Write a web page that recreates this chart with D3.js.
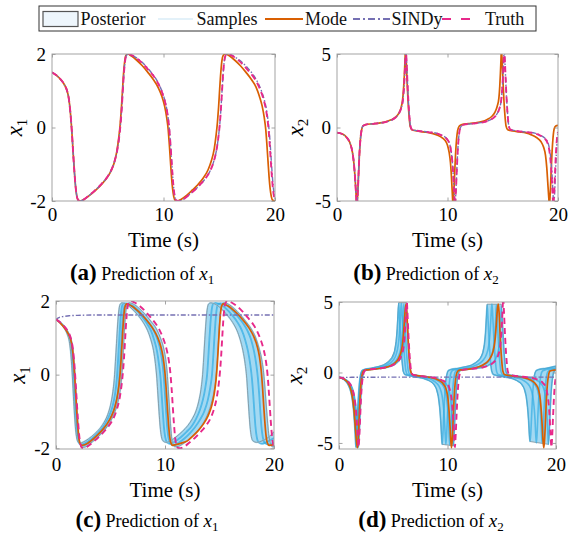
<!DOCTYPE html>
<html><head><meta charset="utf-8">
<script src="https://cdn.jsdelivr.net/npm/d3@7"></script>
<style>body{margin:0;background:#fff}svg{display:block}</style>
</head><body><svg id="c" width="575" height="538"></svg>
<script>
// ---------------- data ----------------
const xTicks = [0, 10, 20];
const x1Ticks = [-2, 0, 2];
const x2Ticks = [-5, 0, 5];
const legendLabels = ["Posterior", "Samples", "Mode", "SINDy", "Truth"];

const truthX1 = [[0,1.5],[0.4,1.42],[0.8,1.3],[1.1,1.17],[1.35,1.0],[1.5,0.8],[1.62,0.5],[1.72,0.15],[1.82,-0.3],[1.92,-0.8],[2.02,-1.25],[2.12,-1.62],[2.22,-1.86],[2.36,-1.98],[2.55,-2.0],
[2.9,-1.95],[3.4,-1.83],[3.9,-1.7],[4.4,-1.55],[4.9,-1.37],[5.3,-1.17],[5.6,-0.93],[5.85,-0.62],[6.03,-0.25],[6.15,0.1],[6.25,0.5],[6.35,1.0],[6.45,1.48],[6.55,1.8],[6.67,1.96],[6.85,2.0],
[7.2,1.96],[7.7,1.86],[8.2,1.72],[8.7,1.55],[9.2,1.36],[9.6,1.15],[9.9,0.93],[10.15,0.68],[10.35,0.38],[10.5,0.02],[10.6,-0.35],[10.7,-0.8],[10.8,-1.25],[10.9,-1.62],[11.0,-1.86],[11.14,-1.98],[11.35,-2.0],
[11.8,-1.95],[12.3,-1.83],[12.8,-1.7],[13.3,-1.55],[13.8,-1.37],[14.2,-1.17],[14.5,-0.93],[14.75,-0.62],[14.93,-0.25],[15.05,0.1],[15.15,0.5],[15.25,1.0],[15.35,1.48],[15.45,1.8],[15.57,1.96],[15.75,2.0],
[16.1,1.96],[16.6,1.86],[17.1,1.72],[17.6,1.55],[18.1,1.36],[18.5,1.15],[18.8,0.93],[19.05,0.68],[19.25,0.38],[19.4,0.02],[19.5,-0.35],[19.6,-0.8],[19.7,-1.25],[19.8,-1.62],[19.9,-1.86],[20,-1.97]];

const truthX2 = [[0,-0.35],[0.5,-0.45],[0.9,-0.7],[1.2,-1.1],[1.4,-1.7],[1.55,-2.6],[1.65,-3.6],[1.73,-4.6],[1.8,-5.3],[1.87,-4.6],[1.95,-3.2],[2.03,-1.8],[2.12,-0.8],[2.22,-0.2],[2.35,0.1],[2.6,0.2],
[3.2,0.25],[3.8,0.3],[4.4,0.37],[4.9,0.5],[5.3,0.68],[5.6,0.95],[5.8,1.3],[5.95,1.8],[6.05,2.6],[6.12,3.5],[6.18,4.5],[6.23,5.3],[6.3,4.4],[6.38,3.0],[6.46,1.8],[6.55,0.8],[6.65,0.1],[6.8,-0.15],
[7.2,-0.22],[7.8,-0.28],[8.4,-0.33],[9.0,-0.4],[9.5,-0.55],[9.9,-0.75],[10.15,-1.05],[10.3,-1.5],[10.42,-2.2],[10.52,-3.2],[10.6,-4.4],[10.68,-5.3],[10.75,-4.5],[10.83,-3.1],[10.91,-1.8],[11.0,-0.8],[11.1,-0.2],[11.25,0.1],[11.5,0.2],
[12.1,0.25],[12.7,0.3],[13.3,0.37],[13.8,0.5],[14.2,0.68],[14.5,0.95],[14.7,1.3],[14.85,1.8],[14.95,2.6],[15.02,3.5],[15.08,4.5],[15.13,5.3],[15.2,4.4],[15.28,3.0],[15.36,1.8],[15.45,0.8],[15.55,0.1],[15.7,-0.15],
[16.1,-0.22],[16.7,-0.28],[17.3,-0.33],[17.9,-0.4],[18.4,-0.55],[18.8,-0.75],[19.05,-1.05],[19.2,-1.5],[19.32,-2.2],[19.42,-3.2],[19.5,-4.4],[19.58,-5.3],[19.65,-4.5],[19.73,-3.1],[19.81,-1.8],[19.9,-0.8],[20,-0.3]];

const modeX1a = [[0,1.5],[0.4,1.42],[0.8,1.3],[1.1,1.17],[1.35,1.0],[1.5,0.8],[1.62,0.5],[1.72,0.15],[1.82,-0.3],[1.92,-0.8],[2.02,-1.25],[2.12,-1.62],[2.22,-1.86],[2.36,-1.98],[2.55,-2.0],
[2.9,-1.95],[3.4,-1.84],[3.9,-1.71],[4.4,-1.56],[4.9,-1.38],[5.3,-1.18],[5.6,-0.94],[5.83,-0.62],[6.0,-0.25],[6.12,0.1],[6.22,0.5],[6.32,1.0],[6.42,1.48],[6.52,1.8],[6.63,1.96],[6.8,2.0],
[7.1,1.95],[7.6,1.83],[8.1,1.68],[8.6,1.5],[9.1,1.3],[9.5,1.1],[9.85,0.85],[10.1,0.58],[10.28,0.28],[10.42,-0.05],[10.52,-0.45],[10.62,-0.9],[10.72,-1.35],[10.82,-1.68],[10.92,-1.88],[11.05,-1.98],[11.25,-2.0],
[11.6,-1.95],[12.1,-1.84],[12.6,-1.7],[13.1,-1.55],[13.6,-1.36],[14.0,-1.15],[14.3,-0.9],[14.55,-0.58],[14.72,-0.2],[14.84,0.15],[14.94,0.55],[15.04,1.05],[15.14,1.5],[15.24,1.82],[15.35,1.96],[15.55,2.0],
[15.9,1.95],[16.4,1.83],[16.9,1.68],[17.4,1.5],[17.9,1.3],[18.3,1.1],[18.6,0.85],[18.85,0.58],[19.03,0.28],[19.17,-0.05],[19.27,-0.45],[19.37,-0.9],[19.47,-1.35],[19.57,-1.68],[19.67,-1.88],[19.8,-1.98],[20,-2.0]];

const sindyX1a = [[0,1.5],[0.4,1.42],[0.8,1.3],[1.1,1.17],[1.35,1.0],[1.5,0.8],[1.62,0.5],[1.72,0.15],[1.82,-0.3],[1.92,-0.8],[2.02,-1.25],[2.12,-1.62],[2.22,-1.86],[2.36,-1.98],[2.55,-2.0],
[2.9,-1.95],[3.4,-1.83],[3.9,-1.7],[4.4,-1.55],[4.9,-1.37],[5.3,-1.17],[5.6,-0.93],[5.85,-0.62],[6.03,-0.25],[6.15,0.1],[6.25,0.5],[6.35,1.0],[6.45,1.48],[6.55,1.8],[6.67,1.96],[6.85,2.0],
[7.2,1.96],[7.7,1.87],[8.2,1.74],[8.7,1.57],[9.2,1.38],[9.6,1.17],[9.9,0.95],[10.15,0.7],[10.35,0.4],[10.5,0.04],[10.6,-0.33],[10.7,-0.78],[10.8,-1.23],[10.9,-1.6],[11.0,-1.85],[11.14,-1.97],[11.35,-2.0],
[11.8,-1.95],[12.3,-1.83],[12.8,-1.7],[13.3,-1.55],[13.8,-1.37],[14.2,-1.17],[14.5,-0.93],[14.75,-0.62],[14.93,-0.25],[15.05,0.1],[15.15,0.5],[15.25,1.0],[15.35,1.48],[15.45,1.8],[15.57,1.96],[15.75,2.0],
[16.1,1.97],[16.6,1.88],[17.1,1.76],[17.6,1.6],[18.1,1.41],[18.5,1.2],[18.8,0.98],[19.05,0.74],[19.27,0.42],[19.43,0.05],[19.54,-0.32],[19.64,-0.78],[19.74,-1.23],[19.84,-1.6],[19.94,-1.85],[20,-1.93]];

const modeX2b = [[0,-0.35],[0.5,-0.45],[0.9,-0.7],[1.2,-1.1],[1.4,-1.7],[1.55,-2.6],[1.65,-3.6],[1.73,-4.6],[1.8,-5.3],[1.87,-4.6],[1.95,-3.2],[2.03,-1.8],[2.12,-0.8],[2.22,-0.2],[2.35,0.1],[2.6,0.2],
[3.2,0.25],[3.8,0.3],[4.4,0.38],[4.9,0.52],[5.3,0.7],[5.6,0.98],[5.8,1.35],[5.93,1.85],[6.02,2.6],[6.09,3.5],[6.15,4.5],[6.2,5.3],[6.27,4.4],[6.35,3.0],[6.43,1.8],[6.52,0.8],[6.62,0.1],[6.77,-0.15],
[7.2,-0.23],[7.8,-0.3],[8.4,-0.37],[8.9,-0.47],[9.35,-0.62],[9.75,-0.85],[10.0,-1.2],[10.15,-1.7],[10.27,-2.4],[10.36,-3.4],[10.43,-4.4],[10.5,-5.3],[10.57,-4.5],[10.65,-3.1],[10.73,-1.8],[10.82,-0.8],[10.92,-0.2],[11.07,0.1],[11.3,0.2],
[11.9,0.26],[12.5,0.32],[13.1,0.4],[13.6,0.55],[14.0,0.75],[14.3,1.05],[14.5,1.45],[14.65,2.0],[14.73,2.8],[14.79,3.7],[14.84,4.6],[14.88,5.3],[14.95,4.4],[15.03,3.0],[15.11,1.8],[15.2,0.8],[15.3,0.1],[15.45,-0.15],
[15.9,-0.23],[16.5,-0.3],[17.1,-0.37],[17.6,-0.5],[18.05,-0.68],[18.45,-0.95],[18.7,-1.35],[18.87,-1.9],[18.98,-2.7],[19.07,-3.7],[19.15,-4.6],[19.23,-5.3],[19.3,-4.4],[19.38,-3.0],[19.46,-1.7],[19.55,-0.7],[19.65,-0.1],[19.8,0.1],[20,0.15]];

const sindyX2b = [[0,-0.35],[0.5,-0.45],[0.9,-0.7],[1.2,-1.1],[1.4,-1.7],[1.55,-2.6],[1.65,-3.6],[1.73,-4.6],[1.8,-5.3],[1.87,-4.6],[1.95,-3.2],[2.03,-1.8],[2.12,-0.8],[2.22,-0.2],[2.35,0.1],[2.6,0.2],
[3.2,0.25],[3.8,0.3],[4.4,0.37],[4.9,0.5],[5.3,0.68],[5.6,0.95],[5.8,1.3],[5.95,1.8],[6.05,2.6],[6.12,3.5],[6.18,4.5],[6.23,5.3],[6.3,4.4],[6.38,3.0],[6.46,1.8],[6.55,0.8],[6.65,0.1],[6.8,-0.15],
[7.2,-0.21],[7.8,-0.27],[8.4,-0.32],[9.0,-0.39],[9.5,-0.53],[9.9,-0.73],[10.15,-1.02],[10.3,-1.48],[10.42,-2.2],[10.52,-3.2],[10.6,-4.4],[10.68,-5.3],[10.75,-4.5],[10.83,-3.1],[10.91,-1.8],[11.0,-0.8],[11.1,-0.2],[11.25,0.1],[11.5,0.2],
[12.1,0.25],[12.7,0.3],[13.3,0.37],[13.8,0.5],[14.2,0.68],[14.5,0.95],[14.7,1.3],[14.85,1.8],[14.95,2.6],[15.02,3.5],[15.08,4.5],[15.13,5.3],[15.2,4.4],[15.28,3.0],[15.36,1.8],[15.45,0.8],[15.55,0.1],[15.7,-0.15],
[16.1,-0.21],[16.7,-0.27],[17.3,-0.32],[17.9,-0.38],[18.4,-0.52],[18.8,-0.72],[19.08,-1.02],[19.24,-1.5],[19.36,-2.2],[19.46,-3.2],[19.54,-4.4],[19.62,-5.3],[19.69,-4.5],[19.77,-3.1],[19.85,-1.8],[19.94,-0.8],[20,-0.45]];

const modeX1c = [[0,1.5],[0.4,1.4],[0.8,1.26],[1.1,1.12],[1.35,0.95],[1.5,0.72],[1.6,0.42],[1.7,0.02],[1.8,-0.48],[1.9,-0.98],[2.0,-1.42],[2.1,-1.73],[2.22,-1.88],[2.4,-1.92],[2.7,-1.9],
[3.2,-1.8],[3.7,-1.67],[4.2,-1.52],[4.7,-1.33],[5.1,-1.12],[5.4,-0.88],[5.65,-0.55],[5.83,-0.15],[5.95,0.3],[6.05,0.8],[6.15,1.3],[6.25,1.68],[6.36,1.87],[6.5,1.92],
[6.9,1.87],[7.4,1.76],[7.9,1.62],[8.4,1.45],[8.9,1.25],[9.3,1.03],[9.6,0.78],[9.82,0.48],[9.98,0.1],[10.1,-0.35],[10.2,-0.82],[10.3,-1.25],[10.4,-1.6],[10.52,-1.83],[10.7,-1.92],[11.0,-1.9],
[11.5,-1.86],[12.05,-1.8],[12.55,-1.67],[13.05,-1.52],[13.55,-1.33],[13.95,-1.12],[14.25,-0.88],[14.5,-0.55],[14.68,-0.15],[14.8,0.3],[14.9,0.8],[15.0,1.3],[15.1,1.68],[15.21,1.87],[15.35,1.92],
[15.75,1.87],[16.25,1.76],[16.75,1.62],[17.25,1.45],[17.75,1.25],[18.15,1.03],[18.45,0.78],[18.67,0.48],[18.83,0.1],[18.95,-0.35],[19.05,-0.82],[19.15,-1.25],[19.25,-1.6],[19.37,-1.83],[19.55,-1.92],[20,-1.9]];

const modeX2d = [[0,-0.35],[0.4,-0.45],[0.8,-0.7],[1.05,-1.1],[1.25,-1.8],[1.4,-2.8],[1.5,-3.8],[1.6,-4.8],[1.7,-5.35],[1.78,-4.6],[1.86,-3.2],[1.94,-1.8],[2.02,-0.8],[2.12,-0.2],[2.25,0.1],[2.5,0.18],
[3.1,0.22],[3.7,0.28],[4.3,0.36],[4.8,0.5],[5.2,0.7],[5.5,1.0],[5.7,1.4],[5.85,2.0],[5.95,2.8],[6.03,3.7],[6.1,4.4],[6.18,4.85],[6.25,4.3],[6.33,3.0],[6.41,1.8],[6.5,0.8],[6.6,0.1],[6.75,-0.15],
[7.2,-0.22],[7.8,-0.28],[8.4,-0.35],[8.9,-0.45],[9.3,-0.6],[9.65,-0.85],[9.9,-1.25],[10.05,-1.9],[10.15,-2.8],[10.23,-3.8],[10.3,-4.8],[10.37,-5.35],[10.45,-4.6],[10.53,-3.2],[10.61,-1.8],[10.7,-0.8],[10.8,-0.2],[10.95,0.1],[11.2,0.18],
[11.8,0.22],[12.4,0.3],[12.9,0.4],[13.3,0.55],[13.7,0.78],[14.0,1.1],[14.2,1.5],[14.35,2.1],[14.45,2.9],[14.53,3.8],[14.6,4.5],[14.68,4.85],[14.75,4.3],[14.83,3.0],[14.91,1.8],[15.0,0.8],[15.1,0.1],[15.25,-0.15],
[15.7,-0.22],[16.3,-0.28],[16.9,-0.35],[17.4,-0.45],[17.8,-0.6],[18.15,-0.85],[18.4,-1.25],[18.55,-1.9],[18.65,-2.8],[18.73,-3.8],[18.8,-4.8],[18.88,-5.35],[18.96,-4.6],[19.04,-3.2],[19.12,-1.8],[19.21,-0.8],[19.31,-0.2],[19.45,0.1],[19.7,0.15],[20,0.18]];

const sindyX1c = [[0,1.48],[0.15,1.53],[0.35,1.56],[0.7,1.58],[1.2,1.6],[2,1.61],[4,1.62],[10,1.62],[20,1.62]];
const sindyX2d = [[0,-0.35],[2,-0.34],[6,-0.33],[12,-0.33],[20,-0.33]];

// posterior samples for x1 (earliest, two middle, latest)
const sampleX1E = [[0,1.5],[0.4,1.4],[0.8,1.24],[1.05,1.08],[1.22,0.9],[1.34,0.62],[1.44,0.25],[1.52,-0.15],[1.6,-0.6],[1.7,-1.1],[1.8,-1.5],[1.9,-1.72],[2.02,-1.83],[2.2,-1.86],[2.5,-1.83],
[3.0,-1.74],[3.5,-1.62],[4.0,-1.47],[4.4,-1.3],[4.75,-1.08],[5.0,-0.83],[5.2,-0.5],[5.35,-0.1],[5.45,0.35],[5.55,0.85],[5.65,1.35],[5.75,1.7],[5.87,1.9],[6.05,1.95],
[6.5,1.9],[7.0,1.78],[7.5,1.62],[8.0,1.42],[8.4,1.2],[8.7,0.95],[8.95,0.65],[9.12,0.3],[9.25,-0.1],[9.35,-0.55],[9.45,-1.0],[9.55,-1.4],[9.67,-1.68],[9.82,-1.8],[10.1,-1.84],
[10.6,-1.78],[11.1,-1.67],[11.6,-1.54],[12.1,-1.38],[12.5,-1.2],[12.85,-0.98],[13.1,-0.72],[13.3,-0.4],[13.45,0.0],[13.55,0.45],[13.65,0.95],[13.75,1.4],[13.86,1.75],[14.0,1.92],[14.2,1.95],
[14.7,1.9],[15.2,1.78],[15.7,1.62],[16.2,1.42],[16.6,1.2],[16.9,0.95],[17.15,0.65],[17.35,0.3],[17.5,-0.1],[17.6,-0.55],[17.7,-1.0],[17.8,-1.4],[17.92,-1.68],[18.07,-1.8],[18.4,-1.84],[18.9,-1.8],[19.4,-1.72],[19.8,-1.62],[20,-1.55]];
const sampleX1S2 = [[0,1.5],[0.4,1.41],[0.8,1.27],[1.1,1.12],[1.3,0.93],[1.43,0.65],[1.52,0.3],[1.6,-0.12],[1.69,-0.6],[1.79,-1.1],[1.89,-1.5],[1.99,-1.75],[2.12,-1.87],[2.3,-1.9],[2.6,-1.87],
[3.1,-1.78],[3.6,-1.66],[4.1,-1.5],[4.5,-1.33],[4.9,-1.1],[5.2,-0.85],[5.42,-0.52],[5.58,-0.12],[5.68,0.32],[5.78,0.82],[5.88,1.32],[5.98,1.7],[6.1,1.9],[6.3,1.94],
[6.8,1.89],[7.3,1.77],[7.8,1.61],[8.3,1.41],[8.7,1.2],[9.0,0.95],[9.27,0.63],[9.45,0.28],[9.6,-0.12],[9.7,-0.57],[9.8,-1.02],[9.9,-1.42],[10.02,-1.7],[10.18,-1.84],[10.45,-1.88],
[10.95,-1.81],[11.45,-1.7],[11.95,-1.56],[12.45,-1.4],[12.85,-1.2],[13.2,-0.96],[13.48,-0.68],[13.7,-0.35],[13.87,0.02],[13.97,0.45],[14.07,0.95],[14.17,1.4],[14.28,1.75],[14.42,1.92],[14.65,1.95],
[15.15,1.9],[15.65,1.78],[16.15,1.62],[16.65,1.42],[17.05,1.2],[17.35,0.95],[17.62,0.63],[17.82,0.28],[17.98,-0.12],[18.1,-0.57],[18.2,-1.02],[18.3,-1.42],[18.42,-1.7],[18.58,-1.84],[18.9,-1.88],[19.4,-1.82],[20,-1.72]];
const sampleX1S3 = [[0,1.5],[0.4,1.41],[0.8,1.28],[1.1,1.14],[1.33,0.97],[1.48,0.72],[1.58,0.38],[1.68,-0.05],[1.77,-0.55],[1.87,-1.05],[1.97,-1.47],[2.07,-1.74],[2.2,-1.88],[2.38,-1.93],[2.7,-1.9],
[3.2,-1.81],[3.7,-1.69],[4.2,-1.54],[4.65,-1.37],[5.05,-1.15],[5.38,-0.9],[5.62,-0.58],[5.78,-0.18],[5.88,0.28],[5.98,0.8],[6.08,1.3],[6.18,1.68],[6.3,1.88],[6.5,1.93],
[7.0,1.88],[7.5,1.76],[8.0,1.6],[8.5,1.41],[8.95,1.2],[9.3,0.96],[9.58,0.66],[9.77,0.3],[9.9,-0.1],[10.0,-0.55],[10.1,-1.0],[10.2,-1.42],[10.32,-1.72],[10.48,-1.87],[10.75,-1.92],
[11.25,-1.85],[11.75,-1.74],[12.25,-1.6],[12.75,-1.43],[13.2,-1.23],[13.6,-1.0],[13.92,-0.7],[14.15,-0.35],[14.32,0.02],[14.42,0.45],[14.52,0.95],[14.62,1.4],[14.73,1.75],[14.87,1.92],[15.1,1.94],
[15.6,1.89],[16.1,1.77],[16.6,1.61],[17.1,1.42],[17.55,1.2],[17.9,0.95],[18.17,0.63],[18.37,0.28],[18.53,-0.12],[18.65,-0.57],[18.75,-1.02],[18.85,-1.42],[18.97,-1.7],[19.13,-1.85],[19.45,-1.9],[20,-1.85]];
const sampleX1L = [[0,1.5],[0.4,1.42],[0.8,1.3],[1.1,1.16],[1.35,1.0],[1.5,0.8],[1.62,0.5],[1.72,0.12],[1.8,-0.3],[1.9,-0.82],[2.0,-1.28],[2.1,-1.65],[2.22,-1.88],[2.38,-1.97],[2.6,-1.97],
[3.1,-1.88],[3.6,-1.76],[4.1,-1.62],[4.6,-1.45],[5.0,-1.27],[5.35,-1.05],[5.65,-0.78],[5.88,-0.45],[6.03,-0.05],[6.13,0.4],[6.22,0.9],[6.32,1.4],[6.42,1.75],[6.55,1.92],[6.75,1.95],
[7.2,1.9],[7.7,1.78],[8.2,1.63],[8.7,1.45],[9.2,1.25],[9.55,1.02],[9.85,0.75],[10.05,0.45],[10.2,0.05],[10.3,-0.4],[10.4,-0.88],[10.5,-1.32],[10.6,-1.68],[10.72,-1.88],[10.9,-1.96],[11.2,-1.95],
[11.7,-1.87],[12.2,-1.76],[12.7,-1.62],[13.2,-1.45],[13.6,-1.27],[13.95,-1.05],[14.25,-0.78],[14.5,-0.45],[14.68,-0.05],[14.8,0.4],[14.9,0.9],[15.0,1.4],[15.1,1.75],[15.22,1.92],[15.4,1.95],
[15.9,1.9],[16.4,1.78],[16.9,1.63],[17.4,1.45],[17.9,1.25],[18.3,1.02],[18.6,0.75],[18.85,0.45],[19.05,0.05],[19.18,-0.4],[19.3,-0.88],[19.42,-1.32],[19.54,-1.68],[19.68,-1.88],[19.85,-1.96],[20,-1.96]];

// posterior samples for x2
const sampleX2E = [[0,-0.35],[0.4,-0.48],[0.75,-0.75],[1.0,-1.15],[1.2,-1.8],[1.33,-2.6],[1.42,-3.5],[1.49,-4.4],[1.55,-5.3],[1.62,-4.5],[1.7,-3.1],[1.78,-1.8],[1.87,-0.8],[1.97,-0.2],[2.1,0.12],[2.4,0.22],
[3.0,0.3],[3.6,0.4],[4.1,0.52],[4.5,0.7],[4.85,0.98],[5.1,1.4],[5.25,2.0],[5.35,2.8],[5.43,3.9],[5.5,4.9],[5.57,4.0],[5.65,2.8],[5.73,1.7],[5.82,0.75],[5.92,0.1],[6.07,-0.15],
[6.6,-0.25],[7.2,-0.33],[7.8,-0.43],[8.3,-0.58],[8.7,-0.8],[8.97,-1.15],[9.15,-1.7],[9.28,-2.5],[9.37,-3.4],[9.44,-4.4],[9.5,-5.1],[9.57,-4.5],[9.65,-3.1],[9.73,-1.8],[9.82,-0.8],[9.92,-0.2],[10.05,0.12],[10.35,0.22],
[11.0,0.3],[11.6,0.4],[12.2,0.52],[12.6,0.7],[13.0,0.98],[13.25,1.4],[13.4,2.0],[13.5,2.8],[13.58,3.9],[13.65,4.8],[13.72,4.0],[13.8,2.8],[13.88,1.7],[13.97,0.75],[14.07,0.1],[14.22,-0.15],
[14.75,-0.25],[15.35,-0.33],[15.95,-0.43],[16.4,-0.58],[16.8,-0.8],[17.07,-1.15],[17.25,-1.7],[17.38,-2.5],[17.47,-3.4],[17.54,-4.4],[17.6,-4.9],[17.67,-4.4],[17.75,-3.1],[17.83,-1.8],[17.92,-0.8],[18.02,-0.2],[18.15,0.12],[18.45,0.22],[19.1,0.3],[19.6,0.38],[20,0.45]];
const sampleX2S2 = [[0,-0.35],[0.45,-0.47],[0.8,-0.72],[1.05,-1.1],[1.26,-1.75],[1.4,-2.55],[1.49,-3.45],[1.56,-4.4],[1.62,-5.25],[1.69,-4.55],[1.77,-3.15],[1.85,-1.8],[1.94,-0.8],[2.04,-0.2],[2.17,0.11],[2.45,0.2],
[3.05,0.27],[3.65,0.35],[4.2,0.46],[4.65,0.62],[5.0,0.88],[5.28,1.3],[5.45,1.9],[5.56,2.7],[5.64,3.7],[5.7,4.5],[5.75,4.9],[5.82,4.0],[5.9,2.8],[5.98,1.7],[6.07,0.75],[6.17,0.1],[6.32,-0.15],
[6.9,-0.24],[7.5,-0.31],[8.1,-0.4],[8.6,-0.54],[9.0,-0.76],[9.3,-1.1],[9.5,-1.65],[9.63,-2.45],[9.72,-3.4],[9.79,-4.4],[9.85,-5.1],[9.92,-4.4],[10.0,-3.0],[10.08,-1.7],[10.17,-0.75],[10.27,-0.18],[10.4,0.1],[10.7,0.2],
[11.3,0.27],[11.9,0.35],[12.45,0.46],[12.9,0.62],[13.3,0.88],[13.6,1.3],[13.8,1.9],[13.91,2.7],[13.99,3.7],[14.05,4.5],[14.1,4.85],[14.17,4.0],[14.25,2.8],[14.33,1.7],[14.42,0.75],[14.52,0.1],[14.67,-0.15],
[15.25,-0.24],[15.85,-0.31],[16.45,-0.4],[16.95,-0.54],[17.35,-0.76],[17.65,-1.1],[17.85,-1.65],[17.98,-2.45],[18.07,-3.4],[18.13,-4.4],[18.19,-5.0],[18.26,-4.3],[18.34,-2.9],[18.42,-1.65],[18.51,-0.75],[18.61,-0.18],[18.75,0.1],[19.05,0.2],[19.6,0.27],[20,0.32]];
const sampleX2S3 = [[0,-0.35],[0.45,-0.46],[0.85,-0.7],[1.12,-1.08],[1.33,-1.72],[1.47,-2.52],[1.57,-3.42],[1.64,-4.4],[1.7,-5.3],[1.77,-4.6],[1.85,-3.2],[1.93,-1.8],[2.02,-0.8],[2.12,-0.2],[2.25,0.1],[2.52,0.19],
[3.1,0.25],[3.7,0.32],[4.3,0.41],[4.8,0.56],[5.2,0.8],[5.5,1.18],[5.7,1.75],[5.82,2.55],[5.9,3.6],[5.97,4.85],[6.04,4.0],[6.12,2.8],[6.2,1.7],[6.29,0.75],[6.39,0.1],[6.54,-0.15],
[7.1,-0.23],[7.7,-0.3],[8.3,-0.38],[8.85,-0.5],[9.3,-0.7],[9.65,-1.02],[9.87,-1.6],[10.0,-2.45],[10.09,-3.4],[10.15,-4.4],[10.21,-5.15],[10.28,-4.45],[10.36,-3.05],[10.44,-1.72],[10.53,-0.77],[10.63,-0.18],[10.77,0.1],[11.07,0.19],
[11.7,0.25],[12.3,0.32],[12.9,0.41],[13.4,0.56],[13.8,0.8],[14.05,1.18],[14.23,1.75],[14.35,2.55],[14.43,3.6],[14.5,4.8],[14.57,4.0],[14.65,2.8],[14.73,1.7],[14.82,0.75],[14.92,0.1],[15.07,-0.15],
[15.65,-0.23],[16.25,-0.3],[16.85,-0.38],[17.4,-0.5],[17.85,-0.7],[18.18,-1.02],[18.4,-1.6],[18.53,-2.45],[18.61,-3.4],[18.67,-4.4],[18.73,-5.0],[18.8,-4.3],[18.88,-2.95],[18.96,-1.68],[19.05,-0.76],[19.15,-0.18],[19.29,0.1],[19.6,0.19],[20,0.24]];
const sampleX2L = [[0,-0.35],[0.5,-0.45],[0.9,-0.68],[1.2,-1.05],[1.42,-1.7],[1.56,-2.5],[1.65,-3.4],[1.72,-4.4],[1.78,-5.3],[1.85,-4.6],[1.93,-3.2],[2.01,-1.8],[2.1,-0.8],[2.2,-0.2],[2.33,0.1],[2.6,0.18],
[3.2,0.23],[3.8,0.29],[4.4,0.36],[4.9,0.48],[5.3,0.66],[5.6,0.92],[5.8,1.3],[5.95,1.85],[6.05,2.6],[6.12,3.6],[6.18,4.8],[6.25,4.1],[6.33,2.9],[6.41,1.75],[6.5,0.8],[6.6,0.1],[6.75,-0.15],
[7.3,-0.22],[7.9,-0.28],[8.5,-0.34],[9.0,-0.42],[9.45,-0.56],[9.85,-0.8],[10.1,-1.15],[10.25,-1.7],[10.35,-2.5],[10.43,-3.5],[10.48,-4.4],[10.54,-5.2],[10.61,-4.5],[10.69,-3.1],[10.77,-1.8],[10.86,-0.8],[10.96,-0.2],[11.1,0.1],[11.4,0.18],
[12.0,0.23],[12.6,0.29],[13.2,0.36],[13.7,0.48],[14.1,0.66],[14.4,0.92],[14.6,1.3],[14.75,1.85],[14.84,2.6],[14.9,3.6],[14.96,4.7],[15.03,4.0],[15.11,2.9],[15.19,1.75],[15.28,0.8],[15.38,0.1],[15.53,-0.15],
[16.1,-0.22],[16.7,-0.28],[17.3,-0.34],[17.8,-0.42],[18.25,-0.56],[18.62,-0.8],[18.87,-1.15],[19.02,-1.7],[19.12,-2.5],[19.2,-3.5],[19.25,-4.4],[19.3,-5.1],[19.37,-4.4],[19.45,-3.0],[19.53,-1.7],[19.62,-0.8],[19.72,-0.2],[19.85,0.1],[20,0.16]];

// posterior envelope of x2 (upper / lower edge)
const postX2Upper = [[0,-0.35],[0.5,-0.45],[0.9,-0.68],[1.2,-1.05],[1.4,-1.6],[1.52,-2.3],[1.6,-2.9],[1.66,-3.2],[1.72,-2.6],[1.8,-1.6],[1.9,-0.6],[2.0,-0.1],[2.12,0.14],[2.4,0.24],[3.0,0.32],[3.6,0.42],[4.1,0.55],[4.5,0.75],[4.85,1.05],[5.1,1.5],[5.25,2.2],[5.35,3.1],[5.44,4.4],[5.5,4.95],[6.2,4.95],[6.26,4.2],[6.34,2.9],[6.42,1.75],[6.5,0.8],[6.6,0.1],[6.75,-0.15],[7.3,-0.22],[7.9,-0.28],[8.5,-0.34],[9.0,-0.42],[9.45,-0.56],[9.6,-0.68],[9.72,-0.8],[9.82,-0.6],[9.92,-0.2],[10.05,0.12],[10.35,0.22],[11.0,0.3],[11.6,0.4],[12.2,0.52],[12.6,0.7],[13.0,0.98],[13.25,1.4],[13.4,2.0],[13.5,2.8],[13.58,3.9],[13.65,4.85],[14.95,4.85],[15.03,4.0],[15.11,2.9],[15.19,1.75],[15.28,0.8],[15.38,0.1],[15.53,-0.15],[16.1,-0.22],[16.7,-0.28],[17.3,-0.34],[17.6,-0.4],[17.78,-0.52],[17.88,-0.5],[17.96,-0.3],[18.05,-0.05],[18.15,0.12],[18.45,0.22],[19.1,0.3],[19.6,0.38],[20,0.45]];
const postX2Lower = [[0,-0.35],[0.4,-0.48],[0.75,-0.75],[1.0,-1.15],[1.2,-1.8],[1.33,-2.6],[1.42,-3.5],[1.49,-4.4],[1.55,-5.3],[1.8,-5.3],[1.86,-4.6],[1.94,-3.2],[2.02,-1.8],[2.11,-0.8],[2.21,-0.2],[2.34,0.1],[2.6,0.18],[3.2,0.23],[3.8,0.29],[4.4,0.36],[4.9,0.48],[5.3,0.66],[5.6,0.9],[5.72,1.15],[5.8,0.85],[5.9,0.1],[6.05,-0.15],[6.6,-0.25],[7.2,-0.33],[7.8,-0.43],[8.3,-0.58],[8.7,-0.8],[8.97,-1.15],[9.15,-1.7],[9.28,-2.5],[9.37,-3.4],[9.44,-4.4],[9.5,-5.1],[10.54,-5.2],[10.61,-4.5],[10.69,-3.1],[10.77,-1.8],[10.86,-0.8],[10.96,-0.2],[11.1,0.1],[11.4,0.18],[12.0,0.23],[12.6,0.29],[13.2,0.36],[13.7,0.48],[13.92,0.6],[14.0,0.45],[14.07,0.1],[14.22,-0.15],[14.75,-0.25],[15.35,-0.33],[15.95,-0.43],[16.4,-0.58],[16.8,-0.8],[17.07,-1.15],[17.25,-1.7],[17.38,-2.5],[17.47,-3.4],[17.54,-4.4],[17.6,-4.9],[19.3,-5.1],[19.37,-4.4],[19.45,-3.0],[19.53,-1.7],[19.62,-0.8],[19.72,-0.2],[19.85,0.1],[20,0.16]];

// ---------------- drawing ----------------
const C = {mode:"#d95f02", sindy:"#7570b3", truth:"#e7298a", sample:"#33ace3", band:"#a3d9f2", edge:"#7f8e95", axis:"#9a9a9a"};
const serif = "Liberation Serif, serif";
const svg = d3.select("#c");

const panels = [
  {key:"a", L:52, R:275, T:54, B:201, dom:[-2,2], yt:x1Ticks, sub:"1", truth:truthX1, mode:modeX1a, sindy:sindyX1a, samples:null, env:null, ylabX:17, capX:142, capY:280, tickY:222, timeY:247},
  {key:"b", L:337, R:558, T:54, B:201, dom:[-5,5], yt:x2Ticks, sub:"2", truth:truthX2, mode:modeX2b, sindy:sindyX2b, samples:null, env:null, ylabX:298, capX:426, capY:280, tickY:222, timeY:247},
  {key:"c", L:56, R:274, T:301, B:449, dom:[-2.02,2], yt:x1Ticks, sub:"1", truth:truthX1, mode:modeX1c, sindy:sindyX1c, samples:[sampleX1E,sampleX1S2,sampleX1S3,sampleX1L], env:null, ylabX:20, capX:147, capY:527, tickY:472, timeY:497},
  {key:"d", L:339, R:556, T:302, B:449, dom:[-5.43,5], yt:x2Ticks, sub:"2", truth:truthX2, mode:modeX2d, sindy:sindyX2d, samples:[sampleX2E,sampleX2S2,sampleX2S3,sampleX2L], env:[postX2Upper, postX2Lower], ylabX:297, capX:431, capY:527, tickY:472, timeY:497}
];

panels.forEach(p => {
  const x = d3.scaleLinear().domain([0,20]).range([p.L, p.R]);
  const y = d3.scaleLinear().domain(p.dom).range([p.B, p.T]);
  const line = d3.line().x(d => x(d[0])).y(d => y(d[1])).curve(d3.curveMonotoneX);
  const lin = d3.line().x(d => x(d[0])).y(d => y(d[1]));
  const g = svg.append("g");
  const clipId = "clip-" + p.key;
  svg.append("clipPath").attr("id", clipId).append("rect")
    .attr("x", p.L).attr("y", p.T).attr("width", p.R - p.L).attr("height", p.B - p.T);
  const plot = g.append("g").attr("clip-path", `url(#${clipId})`);

  if (p.samples) {
    const s = p.samples;
    if (p.env) {
      const path = lin(p.env[0]) + lin(p.env[1].slice().reverse()).replace(/^M/, "L") + "Z";
      plot.append("path").attr("d", path).attr("fill", C.band).attr("stroke", C.edge).attr("stroke-width", 0.8);
      s.forEach(arr => {
        plot.append("path").attr("d", line(arr)).attr("fill", "none")
          .attr("stroke", C.sample).attr("stroke-width", 1.6).attr("stroke-opacity", 0.7);
      });
    } else {
      for (let i = 0; i < s.length - 1; i++) {
        const path = line(s[i]) + line(s[i+1].slice().reverse()).replace(/^M/, "L") + "Z";
        plot.append("path").attr("d", path).attr("fill", C.band).attr("stroke", "none");
      }
      s.slice(1, s.length - 1).forEach(arr => {
        plot.append("path").attr("d", line(arr)).attr("fill", "none")
          .attr("stroke", C.sample).attr("stroke-width", 1.8).attr("stroke-opacity", 0.75);
      });
      [s[0], s[s.length - 1]].forEach(arr => {
        plot.append("path").attr("d", line(arr)).attr("fill", "none")
          .attr("stroke", "#8fd0ef").attr("stroke-width", 1.6).attr("stroke-opacity", 0.7);
        plot.append("path").attr("d", line(arr)).attr("fill", "none")
          .attr("stroke", C.edge).attr("stroke-width", 0.8);
      });
    }
  }
  plot.append("path").attr("d", line(p.mode)).attr("fill", "none")
    .attr("stroke", C.mode).attr("stroke-width", 1.7);
  plot.append("path").attr("d", line(p.sindy)).attr("fill", "none")
    .attr("stroke", C.sindy).attr("stroke-width", 1.4).attr("stroke-dasharray", "5,2,1.5,2");
  plot.append("path").attr("d", line(p.truth)).attr("fill", "none")
    .attr("stroke", C.truth).attr("stroke-width", 1.9).attr("stroke-dasharray", "6,4");

  g.append("rect").attr("x", p.L).attr("y", p.T).attr("width", p.R - p.L).attr("height", p.B - p.T)
    .attr("fill", "none").attr("stroke", C.axis).attr("stroke-width", 0.9);

  const fmt = d => String(d);
  const styleAxis = sel => {
    sel.attr("font-family", null).attr("font-size", null);
    sel.select(".domain").remove();
    sel.selectAll(".tick line").attr("stroke", C.axis).attr("stroke-width", 0.9);
    sel.selectAll(".tick text").attr("fill", "#000").style("font-family", serif).style("font-size", "19px");
  };
  g.append("g").attr("transform", `translate(0,${p.B})`)
    .call(d3.axisBottom(x).tickValues(xTicks).tickFormat(fmt).tickSize(-3.5).tickSizeOuter(0).tickPadding(p.tickY - p.B - 14))
    .call(styleAxis);
  g.append("g").attr("transform", `translate(0,${p.T})`)
    .call(d3.axisTop(x).tickValues(xTicks).tickFormat("").tickSize(-3.5).tickSizeOuter(0))
    .call(styleAxis);
  g.append("g").attr("transform", `translate(${p.L},0)`)
    .call(d3.axisLeft(y).tickValues(p.yt).tickFormat(fmt).tickSize(-3.5).tickSizeOuter(0).tickPadding(6))
    .call(styleAxis);
  g.append("g").attr("transform", `translate(${p.R},0)`)
    .call(d3.axisRight(y).tickValues(p.yt).tickFormat("").tickSize(-3.5).tickSizeOuter(0))
    .call(styleAxis);

  g.append("text").attr("x", (p.L + p.R) / 2).attr("y", p.timeY).attr("text-anchor", "middle")
    .style("font-family", serif).style("font-size", "21px").text("Time (s)");
  const yl = g.append("text").attr("transform", `translate(${p.ylabX},${(p.T + p.B) / 2}) rotate(-90)`)
    .attr("text-anchor", "middle").attr("dy", "0.3em").style("font-family", serif);
  yl.append("tspan").style("font-style", "italic").style("font-size", "23px").text("x");
  yl.append("tspan").style("font-size", "15px").attr("dy", 5).text(p.sub);

  const cap = g.append("text").attr("x", p.capX).attr("y", p.capY).attr("text-anchor", "middle")
    .style("font-family", serif);
  cap.append("tspan").style("font-weight", "bold").style("font-size", "23px").text("(" + p.key + ")");
  cap.append("tspan").style("font-size", "18px").text(" Prediction of ");
  cap.append("tspan").style("font-size", "19px").style("font-style", "italic").text("x");
  cap.append("tspan").style("font-size", "13px").attr("dy", 4).text(p.sub);
});

// ---------------- legend ----------------
const lg = svg.append("g");
lg.append("rect").attr("x", 39).attr("y", 6).attr("width", 497).attr("height", 25)
  .attr("fill", "#fff").attr("stroke", "#333").attr("stroke-width", 1);
lg.append("rect").attr("x", 43).attr("y", 11.5).attr("width", 35).attr("height", 15)
  .attr("fill", "#eef6fc").attr("stroke", "#555").attr("stroke-width", 1.2);
const legText = (x, t) => lg.append("text").attr("x", x).attr("y", 25).style("font-family", serif)
  .style("font-size", "18px").attr("fill", "#111").text(t);
legText(80.5, legendLabels[0]);
lg.append("line").attr("x1", 158).attr("x2", 193).attr("y1", 19).attr("y2", 19)
  .attr("stroke", "#e3f1f9").attr("stroke-width", 2);
legText(196.5, legendLabels[1]);
lg.append("line").attr("x1", 265).attr("x2", 303).attr("y1", 19).attr("y2", 19)
  .attr("stroke", C.mode).attr("stroke-width", 2);
legText(305, legendLabels[2]);
lg.append("line").attr("x1", 353).attr("x2", 390).attr("y1", 19).attr("y2", 19)
  .attr("stroke", C.sindy).attr("stroke-width", 2).attr("stroke-dasharray", "7,3,2,3");
legText(391.5, legendLabels[3]);
lg.append("line").attr("x1", 442).attr("x2", 479).attr("y1", 19).attr("y2", 19)
  .attr("stroke", C.truth).attr("stroke-width", 2.2).attr("stroke-dasharray", "9,10");
legText(485, legendLabels[4]);
</script></body></html>
